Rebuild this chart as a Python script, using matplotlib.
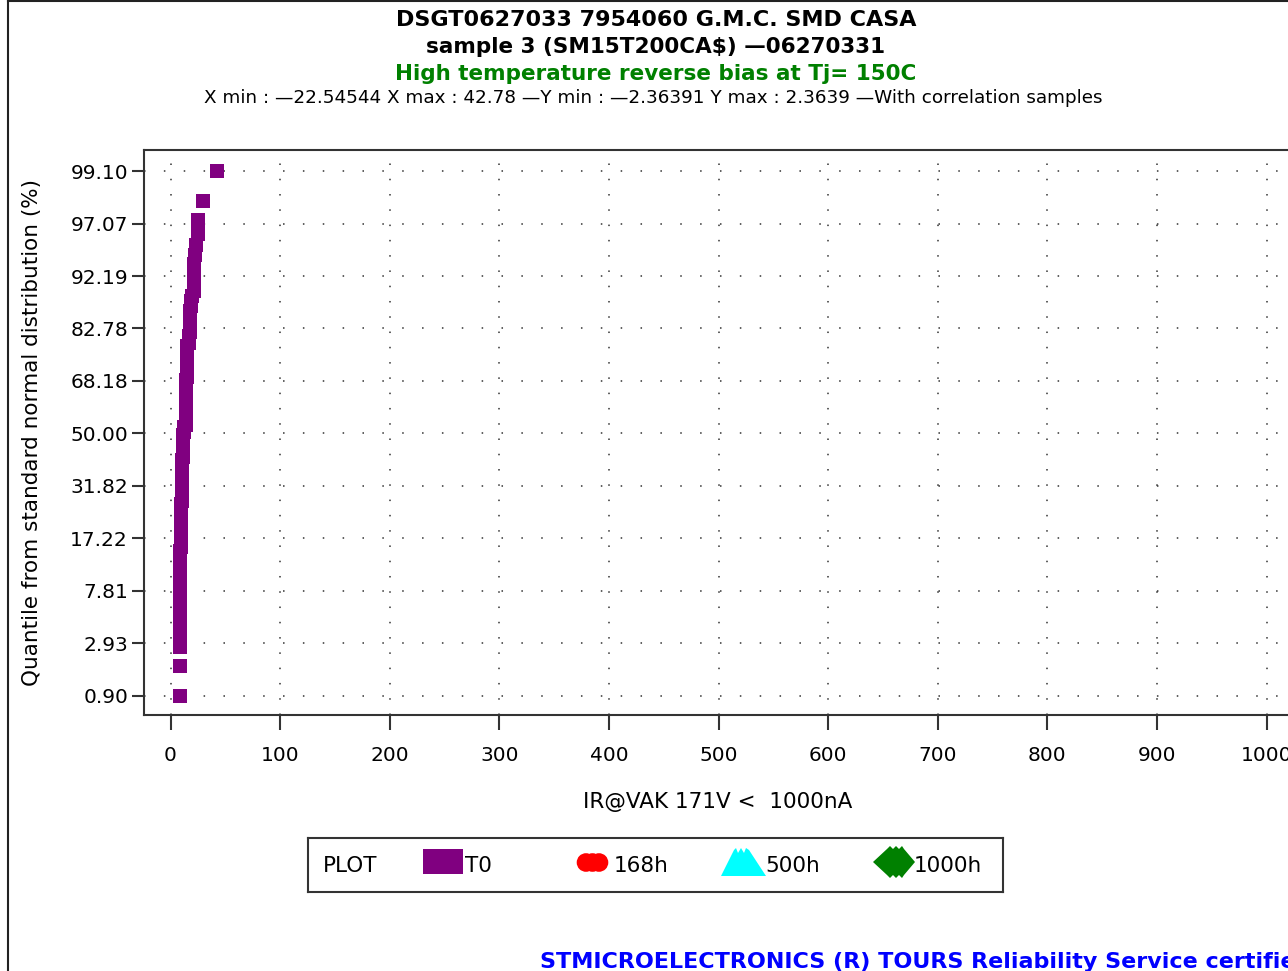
"""
HTRB normal probability plot - IR@VAK 171V, sample 3 (SM15T200CA$).
"""
from statistics import NormalDist

import matplotlib
matplotlib.use("Agg")
import matplotlib.pyplot as plt
from matplotlib.lines import Line2D
from matplotlib.patches import Rectangle, Circle, Polygon

W, H = 1288, 971

TITLE_1 = "DSGT0627033 7954060 G.M.C. SMD CASA"
TITLE_2 = "sample 3 (SM15T200CA$) \u201406270331"
TITLE_3 = "High temperature reverse bias at Tj= 150C"
TITLE_4 = ("X min : \u201422.54544 X max : 42.78 \u2014Y min : \u20142.36391 "
           "Y max : 2.3639 \u2014With correlation samples")
X_LABEL = "IR@VAK 171V <  1000nA"
Y_LABEL = "Quantile from standard normal distribution (%)"
FOOTER = "STMICROELECTRONICS (R) TOURS Reliability Service certified"

# leakage current at T0 (nA), sorted
ir_t0 = [
    8.4, 8.4,
    9.1, 9.1, 9.1, 9.1, 9.1, 9.1, 9.1, 9.1, 9.1, 9.1, 9.1, 9.1, 9.1, 9.1,
    10.0, 10.0, 10.0, 10.0, 10.0, 10.0, 10.0, 10.0, 10.0, 10.0, 10.0, 10.0, 10.0,
    10.5, 10.5, 10.5, 10.5, 10.5, 10.5, 10.5, 10.5,
    10.5, 10.5, 10.5, 10.5, 10.5, 10.5, 10.5, 10.5,
    11.6, 11.6, 11.6, 11.6, 11.6, 11.6, 11.6, 11.6, 11.6, 11.6,
    12.6, 12.6, 12.6,
    14.0, 14.0, 14.0, 14.0, 14.0, 14.0, 14.0, 14.0, 14.0,
    14.0, 14.0, 14.0, 14.0, 14.0, 14.0, 14.0, 14.0, 14.0,
    15.3, 15.3, 15.3, 15.3, 15.3, 15.3, 15.3, 15.3, 15.3, 15.3, 15.3,
    16.6, 16.6, 16.6,
    17.4, 17.4, 17.4, 17.4, 17.4, 17.4,
    18.7, 18.7, 19.7,
    21.2, 21.2, 21.2, 21.2, 21.2,
    22.0, 23.1, 24.8, 25.5, 29.7, 42.78,
]

x_ticks = [0, 100, 200, 300, 400, 500, 600, 700, 800, 900, 1000]
y_tick_labels = ["0.90", "2.93", "7.81", "17.22", "31.82", "50.00",
                 "68.18", "82.78", "92.19", "97.07", "99.10"]

legend_names = ["T0", "168h", "500h", "1000h"]
legend_colors = ["#800080", "#ff0000", "#00ffff", "#008000"]

AX_COLOR = "#333333"
FS = 14.5      # tick labels
FS_LAB = 15.5  # axis labels, legend
FS_TTL = 15.5


def fx(x):
    return x / W


def fy(y):
    return 1 - y / H


def draw_titles(fig):
    fig.text(fx(656), fy(20), TITLE_1, ha="center", va="center",
             fontsize=16, fontweight="bold")
    fig.text(fx(656), fy(47), TITLE_2, ha="center", va="center",
             fontsize=FS_TTL, fontweight="bold")
    fig.text(fx(656), fy(74), TITLE_3, ha="center", va="center",
             fontsize=FS_TTL, fontweight="bold", color="#008000")
    fig.text(fx(653), fy(98), TITLE_4, ha="center", va="center", fontsize=13.2)
    fig.text(fx(540), fy(962), FOOTER, ha="left", va="center",
             fontsize=16, fontweight="bold", color="#0000ff")
    # page frame (left + top)
    fig.add_artist(Line2D([fx(8), fx(8)], [0, 1], color="#222222", lw=1.5))
    fig.add_artist(Line2D([fx(8), 1], [fy(1), fy(1)], color="#222222", lw=1.5))


def draw_plot(fig):
    ax = fig.add_axes([fx(144), fy(715), fx(1291) - fx(144), fy(150) - fy(715)])
    nd = NormalDist()
    n = len(ir_t0)
    # plotting positions i/(n+1) on the normal quantile scale
    q = [nd.inv_cdf(i / (n + 1)) for i in range(1, n + 1)]
    ax.plot(ir_t0, q, linestyle="none", marker="s", markersize=10,
            markeredgewidth=0, color=legend_colors[0], zorder=3)

    y_ticks = [nd.inv_cdf(float(t) / 100) for t in y_tick_labels]
    ax.set_xlim(-24.2, 1022.3)
    ax.set_ylim(-2.540, 2.555)
    ax.set_xticks(x_ticks)
    ax.set_xticklabels([str(v) for v in x_ticks], fontsize=FS)
    ax.set_yticks(y_ticks)
    ax.set_yticklabels(y_tick_labels, fontsize=FS)

    for v in x_ticks:
        ax.axvline(v, color="#333333", lw=1.1, linestyle=(0, (1, 9)), zorder=1)
    for v in y_ticks:
        ax.axhline(v, color="#333333", lw=1.1, linestyle=(0, (1, 12)), zorder=1)

    ax.spines["right"].set_visible(False)
    for side in ("left", "bottom", "top"):
        ax.spines[side].set_color(AX_COLOR)
        ax.spines[side].set_linewidth(1.5)
    ax.tick_params(axis="x", length=11, width=1.5, color=AX_COLOR, pad=11)
    ax.tick_params(axis="y", length=8.5, width=1.5, color=AX_COLOR, pad=3)

    fig.text(fx(718), fy(802), X_LABEL, ha="center", va="center", fontsize=FS_LAB)
    fig.text(fx(32), fy(432), Y_LABEL, ha="center", va="center",
             fontsize=FS_LAB, rotation=90)
    return ax


def draw_legend(fig):
    # legend box in pixel units: x 308..1003, y 838..892
    lg = fig.add_axes([fx(308), fy(892), fx(1003) - fx(308), fy(838) - fy(892)])
    lg.set_xlim(308, 1003)
    lg.set_ylim(892, 838)
    lg.set_xticks([])
    lg.set_yticks([])
    for sp in lg.spines.values():
        sp.set_color(AX_COLOR)
        sp.set_linewidth(1.5)

    lg.text(323, 866, "PLOT", ha="left", va="center", fontsize=FS_LAB)
    lg.add_patch(Rectangle((423, 849), 40, 25, color=legend_colors[0], lw=0))
    lg.text(465, 866, legend_names[0], ha="left", va="center", fontsize=FS_LAB)

    for cx in (586, 592.5, 599):
        lg.add_patch(Circle((cx, 862.5), 9.3, color=legend_colors[1], lw=0))
    lg.text(614, 866, legend_names[1], ha="left", va="center", fontsize=FS_LAB)

    lg.add_patch(Polygon([(721, 876), (734, 850), (736, 848), (738, 853),
                          (741, 848), (744, 853), (746, 848), (749, 850),
                          (766, 876)], closed=True, color=legend_colors[2], lw=0))
    lg.text(765, 866, legend_names[2], ha="left", va="center", fontsize=FS_LAB)

    lg.add_patch(Polygon([(873, 862), (887, 849), (890, 846), (893, 849),
                          (896, 846), (899, 849), (902, 846), (904, 849),
                          (915, 862), (904, 875), (902, 878), (899, 875),
                          (896, 878), (893, 875), (890, 878), (887, 875)],
                         closed=True, color=legend_colors[3], lw=0))
    lg.text(914, 866, legend_names[3], ha="left", va="center", fontsize=FS_LAB)


def main():
    plt.rcParams["font.family"] = ["DejaVu Sans"]
    fig = plt.figure(figsize=(W / 100, H / 100), dpi=100)
    draw_titles(fig)
    draw_plot(fig)
    draw_legend(fig)
    fig.savefig("out.png", dpi=100)


if __name__ == "__main__":
    main()
